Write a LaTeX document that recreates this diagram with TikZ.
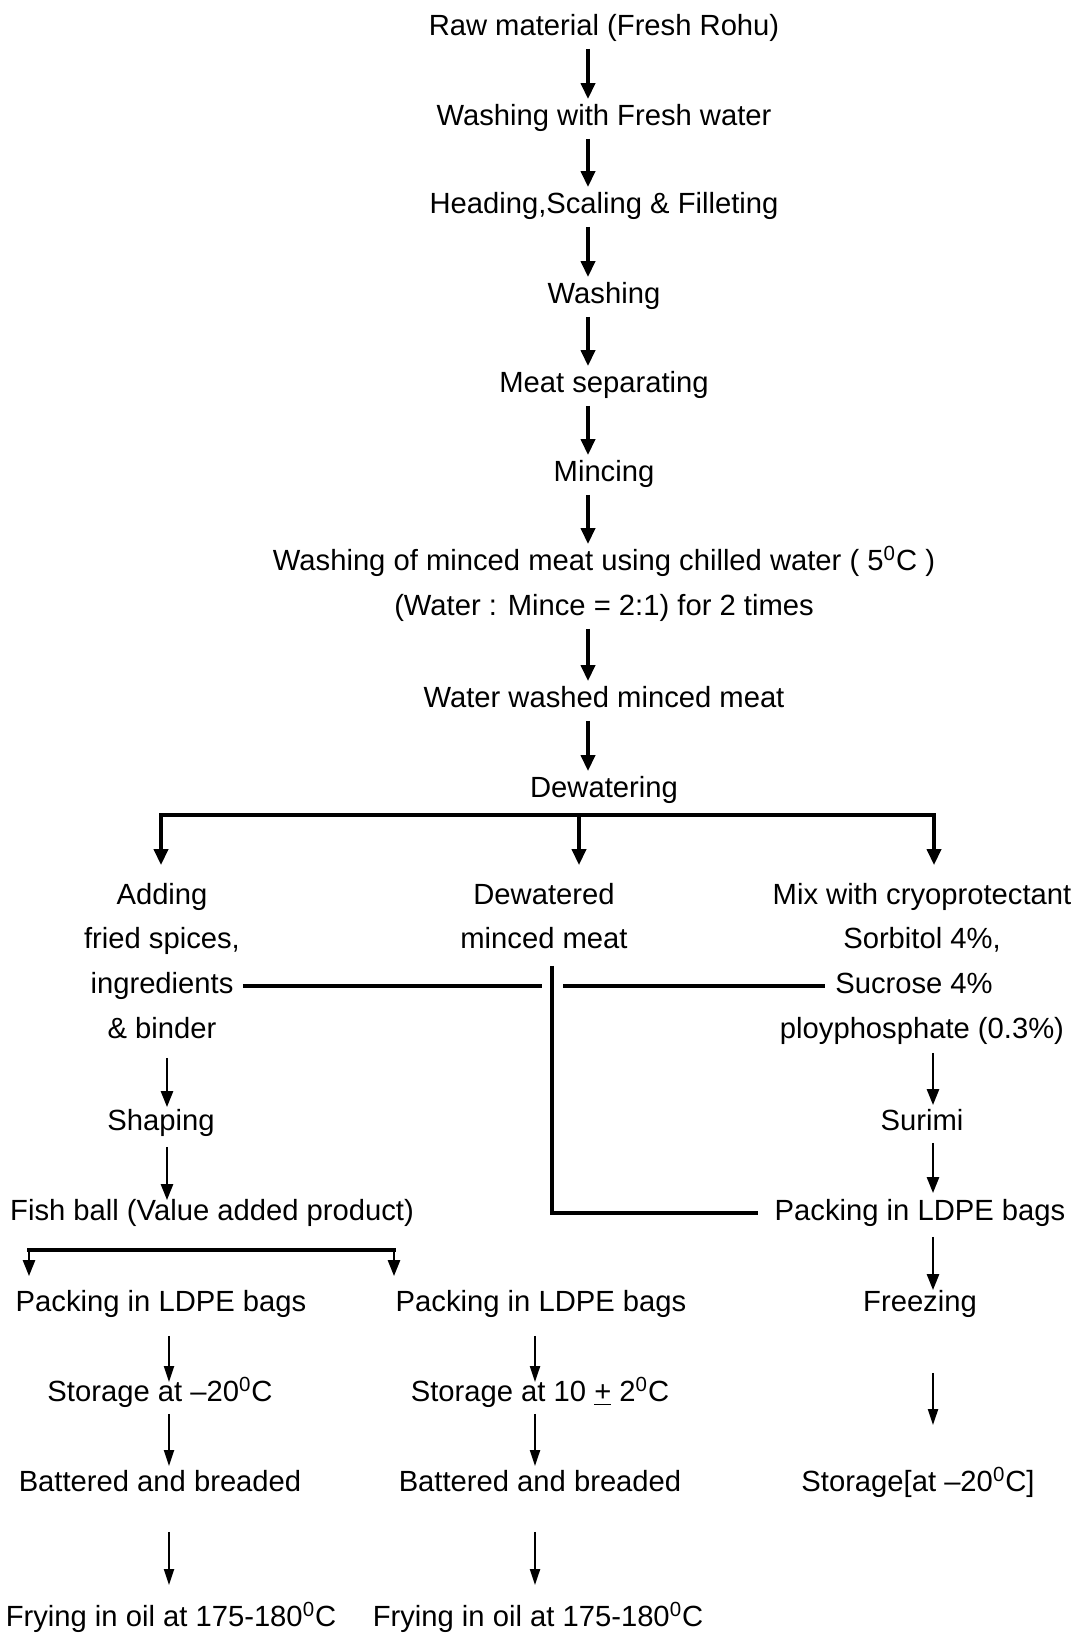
\documentclass[tikz,border=0pt]{standalone}
\usepackage{fontspec}
\setmainfont{Liberation Sans}
\usetikzlibrary{arrows.meta}

\tikzset{
  stage/.style={inner sep=0pt, text height=10.5pt, text depth=3pt,
    font=\fontsize{14.6}{17}\selectfont},
  flow/.style={line width=1.8pt, -{Triangle[length=8pt,width=7pt]},
    shorten <=3.5pt, shorten >=2.5pt},
  sideflow/.style={line width=1.3pt, -{Triangle[length=8pt,width=6pt]}},
  thinflow/.style={line width=1pt, -{Triangle[length=8pt,width=5pt]}},
  branch/.style={line width=2.2pt, line cap=rect},
  link/.style={line width=1.6pt},
}

\begin{document}
\begin{tikzpicture}[x=0.5pt,y=-0.5pt]
    \useasboundingbox (0,-3) rectangle (1078,1630);
    % main column
    \coordinate (spine) at (588,0);
    \node[stage] (raw)      at (604,25)  {Raw material (Fresh Rohu)};
    \node[stage] (fresh)    at (604,115) {Washing with Fresh water};
    \node[stage] (heading)  at (604,203) {Heading,Scaling \& Filleting};
    \node[stage] (washing)  at (604,293) {Washing};
    \node[stage] (meatsep)  at (604,382) {Meat separating};
    \node[stage] (mincing)  at (604,471) {Mincing};
    \node[stage] (chill1)   at (604,560) {Washing of minced meat using chilled water ( 5\textsuperscript{0}C )};
    \node[stage] (chill2)   at (604,605) {(Water : Mince = 2:1) for 2 times};
    \node[stage] (washed)   at (604,697) {Water washed minced meat};
    \node[stage] (dewater)  at (604,787) {Dewatering};
    \draw[flow] (raw.south -| spine) -- (fresh.north -| spine);
    \draw[flow] (fresh.south -| spine) -- (heading.north -| spine);
    \draw[flow] (heading.south -| spine) -- (washing.north -| spine);
    \draw[flow] (washing.south -| spine) -- (meatsep.north -| spine);
    \draw[flow] (meatsep.south -| spine) -- (mincing.north -| spine);
    \draw[flow] (mincing.south -| spine) -- (chill1.north -| spine);
    \draw[flow] (chill2.south -| spine) -- (washed.north -| spine);
    \draw[flow] (washed.south -| spine) -- (dewater.north -| spine);

    % three branches after dewatering
    \node[stage] (add1) at (162,894)  {Adding};
    \node[stage] (add2) at (162,938)  {fried spices,};
    \node[stage] (add3) at (162,983)  {ingredients};
    \node[stage] (add4) at (162,1028) {\& binder};
    \node[stage] (dmm1) at (544,894)  {Dewatered};
    \node[stage] (dmm2) at (544,938)  {minced meat};
    \node[stage] (cry1) at (922,894)  {Mix with cryoprotectant};
    \node[stage] (cry2) at (922,938)  {Sorbitol 4\%,};
    \node[stage] (cry3) at (914,983)  {Sucrose 4\%};
    \node[stage] (cry4) at (922,1028) {ployphosphate (0.3\%)};
    \coordinate (brL) at (161,812);
    \coordinate (brM) at (579,812);
    \coordinate (brR) at (934,812);
    \draw[branch] (brL) -- (brR);
    \draw[flow, shorten <=0pt, shorten >=9pt] (brL) -- (add1.north -| brL);
    \draw[flow, shorten <=0pt, shorten >=9pt] (brM) -- (dmm1.north -| brM);
    \draw[flow, shorten <=0pt, shorten >=9pt] (brR) -- (cry1.north -| brR);

    % cross line and drop from minced meat
    \coordinate (drop) at (552,963);
    \coordinate (gapL) at (542,0);
    \coordinate (gapR) at (563,0);
    \draw[link] ([xshift=4.5pt]add3.east) -- (add3.east -| gapL);
    \draw[link] (cry3.west -| gapR) -- ([xshift=-5pt]cry3.west);

    % left column
    \coordinate (leftx) at (167,0);
    \node[stage] (shaping)  at (161,1120) {Shaping};
    \node[stage] (fishball) at (212,1210) {Fish ball (Value added product)};
    \draw[sideflow, shorten <=6.5pt, shorten >=1pt] (add4.south -| leftx) -- (shaping.north -| leftx);
    \draw[sideflow, shorten <=5pt, shorten >=-0.5pt] (shaping.south -| leftx) -- (fishball.north -| leftx);

    % right column
    \coordinate (rightx) at (933,0);
    \node[stage] (surimi)   at (922,1120) {Surimi};
    \node[stage] (packR)    at (920,1210) {Packing in LDPE bags};
    \node[stage] (freezing) at (920,1301) {Freezing};
    \node[stage] (storeR)   at (918,1481) {Storage[at --20\textsuperscript{0}C]};
    \draw[sideflow, shorten <=4pt, shorten >=2pt] (cry4.south -| rightx) -- (surimi.north -| rightx);
    \draw[sideflow, shorten <=3pt, shorten >=3pt] (surimi.south -| rightx) -- (packR.north -| rightx);
    \draw[sideflow, shorten <=5pt, shorten >=0pt] (packR.south -| rightx) -- (freezing.north -| rightx);
    \draw[thinflow, shorten <=27.5pt, shorten >=22.5pt] (freezing.south -| rightx) -- (storeR.north -| rightx);
    \draw[link, shorten <=5.5pt] (dmm2.south -| drop) |- ([xshift=-8pt]packR.west);

    % fish ball split
    \coordinate (fbL) at (29,1247);
    \coordinate (fbR) at (394,1247);
    \node[stage] (packL)  at (161,1301) {Packing in LDPE bags};
    \node[stage] (storeL) at (160,1391) {Storage at --20\textsuperscript{0}C};
    \node[stage] (batL)   at (160,1481) {Battered and breaded};
    \node[stage] (fryL)   at (171,1616) {Frying in oil at 175-180\textsuperscript{0}C};
    \node[stage] (packM)  at (541,1301) {Packing in LDPE bags};
    \node[stage] (storeM) at (540,1391) {Storage at 10 \underline{+} 2\textsuperscript{0}C};
    \node[stage] (batM)   at (540,1481) {Battered and breaded};
    \node[stage] (fryM)   at (538,1616) {Frying in oil at 175-180\textsuperscript{0}C};
    \draw[branch] (fbL) -- (fbR);
    \draw[sideflow, shorten >=7pt] (fbL) -- (packL.north -| fbL);
    \draw[sideflow, shorten >=7pt] (fbR) -- (packM.north -| fbR);
    \coordinate (lowL) at (169,0);
    \coordinate (lowM) at (535,0);
    \draw[thinflow, shorten <=9pt, shorten >=-1pt] (packL.south -| lowL) -- (storeL.north -| lowL);
    \draw[thinflow, shorten <=3pt, shorten >=2pt] (storeL.south -| lowL) -- (batL.north -| lowL);
    \draw[thinflow, shorten <=17pt, shorten >=10pt] (batL.south -| lowL) -- (fryL.north -| lowL);
    \draw[thinflow, shorten <=9pt, shorten >=-1pt] (packM.south -| lowM) -- (storeM.north -| lowM);
    \draw[thinflow, shorten <=3pt, shorten >=2pt] (storeM.south -| lowM) -- (batM.north -| lowM);
    \draw[thinflow, shorten <=17pt, shorten >=10pt] (batM.south -| lowM) -- (fryM.north -| lowM);
\end{tikzpicture}
\end{document}
